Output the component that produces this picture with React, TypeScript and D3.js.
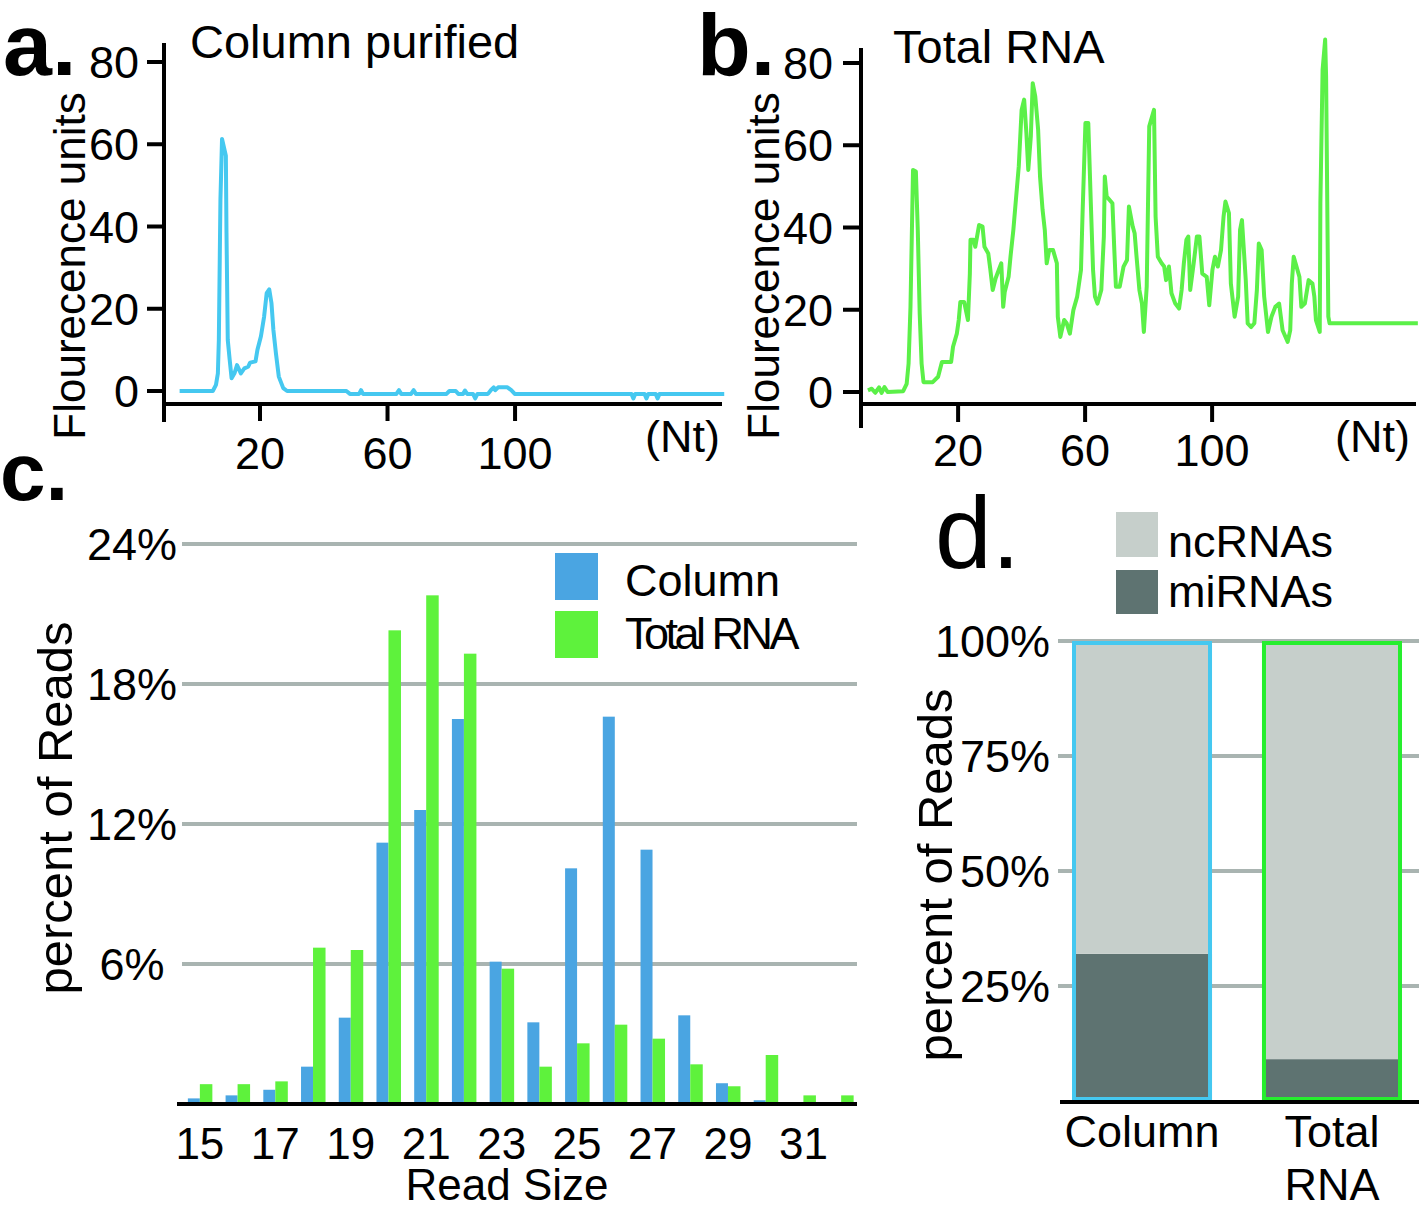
import React from "react";
import * as d3 from "d3";

const FONT = "'Liberation Sans', Arial, Helvetica, sans-serif";

// Panel a: column purified bioanalyzer trace [nt, FU]
const columnTrace: [number, number][] = [
  [-5.2, 0], [5.2, 0], [6.2, 1.5], [6.8, 4.3], [7.1, 12.4], [7.6, 46.6], [8.1, 61.3], [9.3, 57.2],
  [9.5, 38.5], [9.9, 12.4], [10.5, 7.6], [11.1, 3.1], [12.0, 4.3], [12.8, 6.3], [14.0, 4.3], [15.1, 5.5],
  [16.3, 5.9], [16.9, 6.9], [18.6, 7.2], [19.2, 10.0], [20.3, 13.3], [21.3, 18.1], [22.1, 23.8],
  [22.9, 24.7], [23.6, 21.4], [24.2, 14.9], [25.0, 9.2], [25.9, 3.5], [27.3, 0.7], [28.5, 0],
  [47.1, 0], [48.2, -0.7], [51.1, -0.7], [51.7, 0.2], [52.3, -0.7], [62.8, -0.7], [63.6, 0.2],
  [64.3, -0.7], [67.4, -0.7], [68.2, 0.2], [68.9, -0.7], [78.5, -0.7], [79.4, 0], [81.4, 0],
  [82.2, -0.7], [83.7, -0.7], [84.3, 0.1], [85.0, -0.7], [86.8, -0.7], [87.5, -1.8], [88.2, -0.7],
  [91.5, -0.7], [92.4, 0.2], [93.3, 0.9], [93.8, 0.2], [94.7, 0.9], [97.6, 0.9], [98.8, 0.2],
  [99.9, -0.7], [136.5, -0.7], [137.1, -1.8], [137.7, -0.7], [140.6, -0.7], [141.2, -1.8],
  [141.8, -0.7], [144.1, -0.7], [144.7, -1.8], [145.3, -0.7], [165.6, -0.7],
];

// Panel b: total RNA bioanalyzer trace [nt, FU]
const totalTrace: [number, number][] = [
  [-8.4, 0.4], [-7.2, 0.8], [-6.1, -0.2], [-4.9, 1.1], [-4.1, -0.2], [-3.2, 1.2], [-2.2, 0], [2.7, 0.2],
  [3.8, 2.0], [4.4, 6.9], [5.0, 20.7], [5.8, 54.0], [6.7, 53.6], [7.3, 39.4], [7.9, 19.1], [8.5, 6.9],
  [9.1, 2.4], [12.0, 2.4], [13.7, 3.7], [14.9, 7.3], [17.8, 7.3], [18.4, 11.0], [19.6, 14.2],
  [20.2, 17.5], [20.7, 21.9], [21.9, 21.9], [23.1, 17.5], [23.7, 28.8], [23.9, 37.0], [24.8, 37.0],
  [25.4, 35.3], [26.6, 40.6], [27.7, 40.2], [28.3, 35.3], [29.5, 33.7], [30.1, 30.1], [30.9, 24.8],
  [31.8, 27.6], [32.8, 29.7], [33.6, 31.3], [34.2, 20.7], [34.7, 24.4], [35.9, 28.0], [36.5, 32.9],
  [37.4, 39.4], [38.2, 46.7], [39.1, 54.8], [40.0, 68.6], [40.8, 71.1], [41.5, 63.0], [42.1, 54.0],
  [42.9, 62.1], [43.5, 75.1], [44.3, 71.9], [45.2, 63.8], [45.8, 52.4], [46.6, 44.3], [47.3, 39.4],
  [47.9, 31.3], [48.7, 34.5], [49.9, 34.5], [51.1, 31.3], [51.4, 18.3], [52.2, 13.4], [53.4, 17.5],
  [54.2, 16.7], [55.2, 14.2], [56.3, 19.9], [57.5, 23.2], [58.7, 29.7], [59.2, 43.5], [60.1, 65.4],
  [61.0, 65.4], [61.8, 45.9], [62.5, 29.7], [63.1, 23.2], [63.9, 21.5], [65.1, 24.8], [65.9, 37.8],
  [66.2, 52.4], [66.8, 47.5], [68.6, 45.9], [69.2, 34.5], [69.7, 25.6], [70.9, 25.6], [72.1, 30.5],
  [73.2, 32.1], [73.8, 45.1], [75.0, 40.2], [75.6, 38.6], [76.2, 32.9], [77.1, 24.8], [77.9, 21.5],
  [78.5, 14.6], [79.4, 25.6], [80.2, 64.6], [81.7, 68.6], [82.2, 42.6], [82.9, 32.9], [84.1, 31.3],
  [84.9, 30.5], [85.5, 27.2], [86.4, 30.5], [87.2, 24.0], [88.4, 21.5], [89.6, 20.3], [90.4, 24.8],
  [91.1, 31.3], [91.9, 37.0], [92.5, 37.8], [93.1, 24.8], [94.2, 31.3], [95.2, 37.8], [96.0, 37.8],
  [96.9, 28.8], [98.3, 28.0], [99.1, 21.1], [100.1, 29.7], [100.9, 32.9], [101.8, 30.5], [102.8, 34.5],
  [103.6, 42.6], [104.2, 46.3], [105.3, 43.5], [105.9, 26.4], [107.1, 18.3], [108.2, 23.2],
  [108.8, 39.4], [109.4, 41.8], [110.6, 27.2], [111.2, 16.7], [112.3, 15.8], [113.3, 16.7],
  [114.1, 24.8], [114.7, 36.1], [115.6, 34.5], [116.4, 23.2], [117.6, 14.6], [118.7, 18.3],
  [119.9, 20.7], [121.1, 21.5], [122.2, 15.0], [123.8, 12.2], [124.6, 15.0], [125.1, 26.4],
  [125.7, 32.9], [127.5, 28.0], [128.1, 20.7], [129.2, 21.5], [130.4, 27.2], [131.6, 26.4],
  [132.2, 23.2], [132.7, 17.5], [133.9, 14.6], [134.1, 45.9], [134.8, 78.4], [135.6, 85.7],
  [135.9, 76.8], [136.6, 18.3], [137.0, 16.7], [164.8, 16.7],
];

const fuTicks = [0, 20, 40, 60, 80];
const ntTicks = [20, 60, 100];

// Panel c
const readSizes = [15, 16, 17, 18, 19, 20, 21, 22, 23, 24, 25, 26, 27, 28, 29, 30, 31, 32];
const columnPct = [0.24, 0.37, 0.61, 1.6, 3.7, 11.2, 12.6, 16.5, 6.1, 3.5, 10.1, 16.6, 10.9, 3.8, 0.89, 0.16, 0, 0];
const totalPct = [0.85, 0.85, 0.97, 6.7, 6.6, 20.3, 21.8, 19.3, 5.8, 1.6, 2.6, 3.4, 2.8, 1.7, 0.76, 2.1, 0.37, 0.37];
const pctTicks = [6, 12, 18, 24];
const readLabels = [15, 17, 19, 21, 23, 25, 27, 29, 31];

// Panel d
const preps = ["Column", "Total RNA"];
const miRNAs = [32.0, 9.1];
const ncRNAs = [68.0, 90.9];
const dTicks = [25, 50, 75, 100];

const BLUE_BAR = "#4aa5e2";
const GREEN_BAR = "#5ef23c";
const LINE_BLUE = "#45c8f0";
const LINE_GREEN = "#5bf048";
const GRID = "#a9b4b1";
const NC = "#c6cfcb";
const MI = "#5e7371";

export default function App() {
  const xA = d3.scaleLinear().domain([-10.1, 164.9]).range([164, 722]);
  const yA = d3.scaleLinear().domain([0, 80]).range([391, 62]);
  const xB = d3.scaleLinear().domain([-10.9, 163.9]).range([860, 1415]);
  const yB = d3.scaleLinear().domain([0, 80]).range([392, 63]);
  const lineA = d3.line<[number, number]>().x((d) => xA(d[0])).y((d) => yA(d[1]));
  const lineB = d3.line<[number, number]>().x((d) => xB(d[0])).y((d) => yB(d[1]));

  const xC = d3.scaleBand<number>().domain(readSizes).range([181, 860]).padding(0);
  const yC = d3.scaleLinear().domain([0, 24]).range([1104, 544]);

  const xD = d3.scaleBand<string>().domain(preps).range([1072, 1402]).paddingInner(0.263).paddingOuter(0);
  const yD = d3.scaleLinear().domain([0, 100]).range([1101, 641]);
  const stackRows = preps.map((p, i) => ({ prep: p, miRNAs: miRNAs[i], ncRNAs: ncRNAs[i] }));
  const stacked = d3.stack<any>().keys(["miRNAs", "ncRNAs"])(stackRows);
  const stackColors: Record<string, string> = { miRNAs: MI, ncRNAs: NC };
  const outline = [LINE_BLUE, "#26ee2e"];

  const bw = 12;

  return (
    <svg
      width={1419}
      height={1210}
      style={{ position: "absolute", left: 0, top: 0, background: "#fff" }}
      fontFamily={FONT}
    >
      <rect x={0} y={0} width={1419} height={1210} fill="#fff" />

      {/* ---------- Panel a ---------- */}
      <text x={3} y={75} fontSize={88} fontWeight="bold">a.</text>
      <text x={190} y={58} fontSize={47}>Column purified</text>
      <path d={lineA(columnTrace) || ""} fill="none" stroke={LINE_BLUE} strokeWidth={4} strokeLinejoin="round" />
      <line x1={164} x2={164} y1={43} y2={422} stroke="#000" strokeWidth={4} />
      <line x1={162} x2={722} y1={404} y2={404} stroke="#000" strokeWidth={4} />
      {fuTicks.map((t) => (
        <g key={"ay" + t}>
          <line x1={147} x2={164} y1={yA(t)} y2={yA(t)} stroke="#000" strokeWidth={4} />
          <text x={139} y={yA(t)} dy="0.36em" fontSize={45} textAnchor="end">{t}</text>
        </g>
      ))}
      {ntTicks.map((t) => (
        <g key={"ax" + t}>
          <line x1={xA(t)} x2={xA(t)} y1={404} y2={421} stroke="#000" strokeWidth={4} />
          <text x={xA(t)} y={469} fontSize={45} textAnchor="middle">{t}</text>
        </g>
      ))}
      <text x={720} y={452} fontSize={45} textAnchor="end">(Nt)</text>
      <text transform="translate(85,266) rotate(-90)" fontSize={44} textAnchor="middle">Flourecence units</text>

      {/* ---------- Panel b ---------- */}
      <text x={697} y={75} fontSize={88} fontWeight="bold">b.</text>
      <text x={893} y={63} fontSize={47}>Total RNA</text>
      <path d={lineB(totalTrace) || ""} fill="none" stroke={LINE_GREEN} strokeWidth={4} strokeLinejoin="round" />
      <line x1={861} x2={861} y1={48} y2={428} stroke="#000" strokeWidth={4} />
      <line x1={859} x2={1416} y1={404} y2={404} stroke="#000" strokeWidth={4} />
      {fuTicks.map((t) => (
        <g key={"by" + t}>
          <line x1={843} x2={861} y1={yB(t)} y2={yB(t)} stroke="#000" strokeWidth={4} />
          <text x={833} y={yB(t)} dy="0.36em" fontSize={45} textAnchor="end">{t}</text>
        </g>
      ))}
      {ntTicks.map((t) => (
        <g key={"bx" + t}>
          <line x1={xB(t)} x2={xB(t)} y1={404} y2={422} stroke="#000" strokeWidth={4} />
          <text x={xB(t)} y={466} fontSize={45} textAnchor="middle">{t}</text>
        </g>
      ))}
      <text x={1410} y={452} fontSize={45} textAnchor="end">(Nt)</text>
      <text transform="translate(779,266) rotate(-90)" fontSize={44} textAnchor="middle">Flourecence units</text>

      {/* ---------- Panel c ---------- */}
      <text x={0} y={500} fontSize={82} fontWeight="bold">c.</text>
      {pctTicks.map((t) => (
        <g key={"cy" + t}>
          <line x1={182} x2={857} y1={yC(t)} y2={yC(t)} stroke={GRID} strokeWidth={4} />
          <text x={132} y={yC(t)} dy="0.36em" fontSize={45} textAnchor="middle">{t}%</text>
        </g>
      ))}
      {readSizes.map((r, i) => {
        const c = (xC(r) as number) + xC.bandwidth() / 2;
        return (
          <g key={"cb" + r}>
            {columnPct[i] > 0 && (
              <rect x={c - bw} y={yC(columnPct[i])} width={bw} height={yC(0) - yC(columnPct[i])} fill={BLUE_BAR} />
            )}
            <rect x={c} y={yC(totalPct[i])} width={bw + 0.5} height={yC(0) - yC(totalPct[i])} fill={GREEN_BAR} />
          </g>
        );
      })}
      <line x1={177} x2={857} y1={1104} y2={1104} stroke="#000" strokeWidth={4} />
      {readLabels.map((r) => (
        <text key={"cx" + r} x={(xC(r) as number) + xC.bandwidth() / 2} y={1159} fontSize={44} textAnchor="middle">{r}</text>
      ))}
      <text x={507} y={1200} fontSize={44} textAnchor="middle">Read Size</text>
      <text transform="translate(72,808) rotate(-90)" fontSize={49} textAnchor="middle">percent of Reads</text>
      <rect x={555} y={553} width={43} height={47} fill={BLUE_BAR} />
      <rect x={555} y={611} width={43} height={47} fill={GREEN_BAR} />
      <text x={625} y={596} fontSize={45}>Column</text>
      <text x={625} y={649} fontSize={45} letterSpacing={-3.5}>Total RNA</text>

      {/* ---------- Panel d ---------- */}
      <text x={935} y={568} fontSize={102}>d.</text>
      <rect x={1116} y={512} width={42} height={45} fill={NC} />
      <rect x={1116} y={570} width={42} height={44} fill={MI} />
      <text x={1168} y={557} fontSize={45}>ncRNAs</text>
      <text x={1168} y={607} fontSize={45}>miRNAs</text>
      {dTicks.map((t) => (
        <g key={"dy" + t}>
          <line x1={1058} x2={1419} y1={yD(t)} y2={yD(t)} stroke={GRID} strokeWidth={4} />
          <text x={1050} y={yD(t)} dy="0.36em" fontSize={45} textAnchor="end">{t}%</text>
        </g>
      ))}
      {stacked.map((layer) => (
        <g key={layer.key} fill={stackColors[layer.key]}>
          {layer.map((seg, i) => (
            <rect
              key={i}
              x={xD(preps[i]) as number}
              y={yD(seg[1])}
              width={xD.bandwidth()}
              height={yD(seg[0]) - yD(seg[1])}
            />
          ))}
        </g>
      ))}
      {preps.map((p, i) => (
        <rect
          key={"o" + p}
          x={(xD(p) as number) + 2}
          y={yD(100) + 2}
          width={xD.bandwidth() - 4}
          height={yD(0) - yD(100) - 4}
          fill="none"
          stroke={outline[i]}
          strokeWidth={4}
        />
      ))}
      <line x1={1060} x2={1419} y1={1102} y2={1102} stroke="#000" strokeWidth={4} />
      <text x={(xD("Column") as number) + xD.bandwidth() / 2} y={1147} fontSize={45} textAnchor="middle">Column</text>
      <text x={(xD("Total RNA") as number) + xD.bandwidth() / 2} y={1147} fontSize={45} textAnchor="middle">Total</text>
      <text x={(xD("Total RNA") as number) + xD.bandwidth() / 2} y={1200} fontSize={45} textAnchor="middle">RNA</text>
      <text transform="translate(952,875) rotate(-90)" fontSize={49} textAnchor="middle">percent of Reads</text>
    </svg>
  );
}
